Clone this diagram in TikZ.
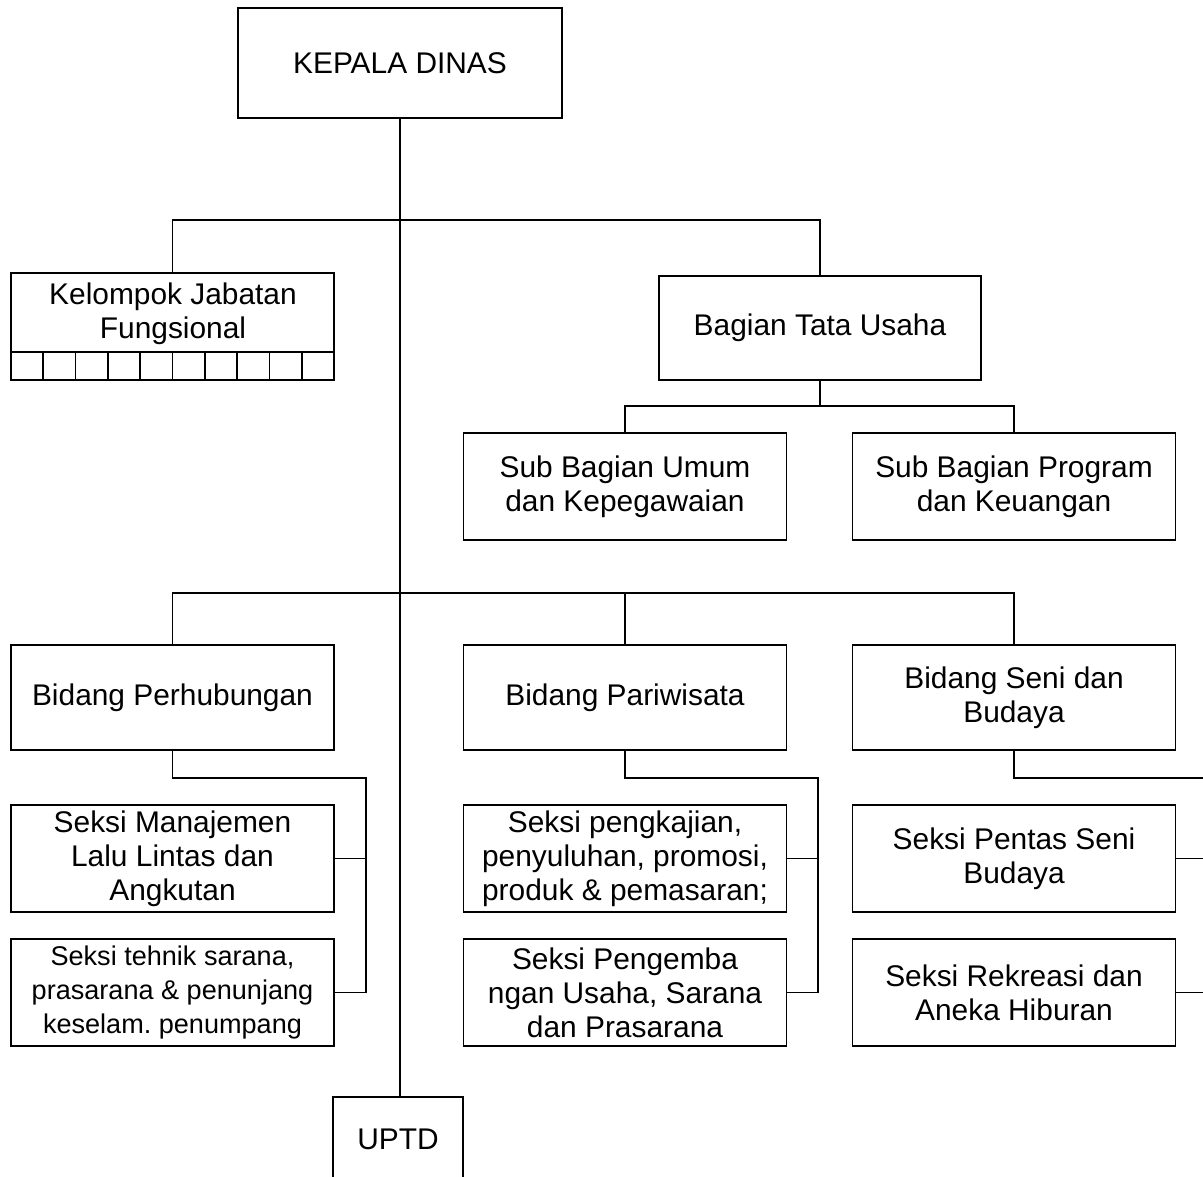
\documentclass[tikz,border=0pt]{standalone}
\usepackage{fontspec}
\setmainfont{Liberation Sans}
\begin{document}
\begin{tikzpicture}[x=0.01cm,y=-0.01cm,line width=0.5pt,
    box/.style={draw,rectangle,inner sep=0pt,minimum width=3.23cm,minimum height=1.07cm,
      align=center,font=\fontsize{8.5}{9.7}\selectfont},
    small/.style={font=\fontsize{7.7}{9.7}\selectfont}]
  \useasboundingbox (0,0) rectangle (1203,1177);
  % top
  \node[box,minimum width=3.24cm,minimum height=1.1cm] (kepala) at (400,63) {KEPALA DINAS};
  \node[box,minimum height=1.07cm] (kjf) at (172.5,326.5) {};
  \node[align=center,inner sep=0pt,font=\fontsize{8.5}{9.7}\selectfont] (kjft) at (173,314) {Kelompok Jabatan\\Fungsional};
  \node[box,minimum width=3.22cm,minimum height=1.04cm] (btu) at (820,328) {Bagian Tata Usaha};
  \node[box] (sbu) at (625,486.5) {Sub Bagian Umum\\dan Kepegawaian};
  \node[box] (sbp) at (1014,486.5) {Sub Bagian Program\\dan Keuangan};
  % bidang
  \node[box,minimum height=1.05cm] (bph) at (172.5,697.5) {Bidang Perhubungan};
  \node[box,minimum height=1.05cm] (bpw) at (625,697.5) {Bidang Pariwisata};
  \node[box,minimum height=1.05cm] (bsb) at (1014,697.5) {Bidang Seni dan\\Budaya};
  % seksi
  \node[box] (smlla) at (172.5,858.5) {Seksi Manajemen\\Lalu Lintas dan\\Angkutan};
  \node[box,small] (stsp) at (172.5,992.5) {Seksi tehnik sarana,\\prasarana \& penunjang\\keselam.\ penumpang};
  \node[box] (spkj) at (625,858.5) {Seksi pengkajian,\\penyuluhan, promosi,\\produk \& pemasaran;};
  \node[box] (spus) at (625,992.5) {Seksi Pengemba\\ngan Usaha, Sarana\\dan Prasarana};
  \node[box] (spsb) at (1014,858.5) {Seksi Pentas Seni\\Budaya};
  \node[box] (srah) at (1014,992.5) {Seksi Rekreasi dan\\Aneka Hiburan};
  \node[box,minimum width=1.3cm,minimum height=0.84cm] (uptd) at (398,1139) {UPTD};

  % cells under Kelompok Jabatan Fungsional
  \draw (11,352) -- (334,352);
  \foreach \i in {1,...,9}
    \draw (11+\i*32.3,352) -- (11+\i*32.3,380);

  \coordinate (j1) at (400,220);
  \coordinate (j2) at (820,406);
  \coordinate (j3) at (400,593);
  \coordinate (b1) at (366,778);
  \coordinate (b2) at (818,778);
  \coordinate (b3) at (1230,778);

  \draw (kepala.south) -- (kepala.south |- uptd.north);
  \draw (kjf.north) |- (j1) -| (btu.north);
  \draw (btu.south) -- (j2);
  \draw (sbu.north) |- (j2) -| (sbp.north);
  \draw (bph.north) |- (j3) -| (bsb.north);
  \draw (bpw.north) -- (bpw.north |- j3);
  \draw (bph.south) |- (b1) |- (stsp.east);
  \draw (smlla.east) -- (smlla.east -| b1);
  \draw (bpw.south) |- (b2) |- (spus.east);
  \draw (spkj.east) -- (spkj.east -| b2);
  \draw (bsb.south) |- (b3) |- (srah.east);
  \draw (spsb.east) -- (spsb.east -| b3);
\end{tikzpicture}
\end{document}
